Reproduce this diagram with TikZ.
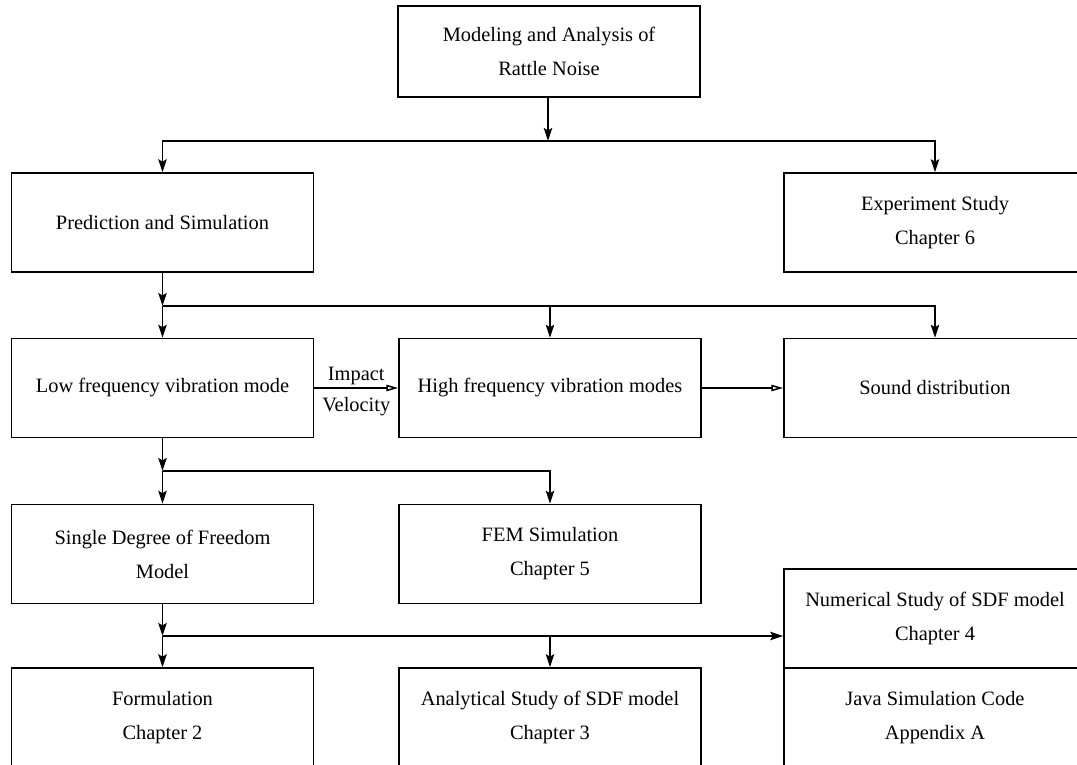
\documentclass[tikz,border=0pt]{standalone}
\usepackage{fontspec}
\setmainfont{Liberation Serif}
\usetikzlibrary{arrows.meta}
\tikzset{
  blockbox/.style={draw, line width=0.75pt, rectangle, minimum width=151pt, minimum height=49.5pt, inner sep=0pt, align=center, font=\fontsize{10.2}{17}\selectfont},
  darrow/.style={-{Stealth[length=6.5pt,width=4.2pt,inset=1.2pt]}, line width=0.75pt},
  oarrow/.style={-{Triangle[open,length=6pt,width=3.2pt]}, line width=0.75pt},
  lbl/.style={font=\fontsize{10.2}{12}\selectfont, inner sep=1.5pt}
}

\begin{document}
\begin{tikzpicture}[x=0.5pt, y=-0.5pt]
    \clip (0,0) rectangle (1077,765);
    \useasboundingbox (0,0) rectangle (1077,765);
    % boxes
    \node[blockbox, minimum height=45.5pt] (rattle) at (549,51.5) {Modeling and Analysis of\\Rattle Noise};
    \node[blockbox] (pred) at (162.5,222.5) {Prediction and Simulation};
    \node[blockbox] (exper) at (935,222.5) {Experiment Study\\Chapter 6};
    \node[blockbox] (lowf) at (162.5,388) {Low frequency vibration mode};
    \node[blockbox] (highf) at (550,388) {High frequency vibration modes};
    \node[blockbox] (sound) at (935,388) {Sound distribution};
    \node[blockbox] (sdf) at (162.5,554) {Single Degree of Freedom\\Model};
    \node[blockbox] (fem) at (550,554) {FEM Simulation\\Chapter 5};
    \node[blockbox] (numer) at (935,618.5) {Numerical Study of SDF model\\Chapter 4};
    \node[blockbox] (java) at (935,717.5) {Java Simulation Code\\Appendix A};
    \node[blockbox] (formul) at (162.5,717.5) {Formulation\\Chapter 2};
    \node[blockbox] (analyt) at (550,717.5) {Analytical Study of SDF model\\Chapter 3};
    % junctions
    \coordinate (j0) at (548,141);
    \coordinate (j1) at (162.5,306);
    \coordinate (j2) at (162.5,471);
    \coordinate (j3) at (162.5,636);
    % connectors
    \draw[darrow] (rattle.south -| j0) -- (j0);
    \draw[darrow] (j0) -| (pred.north);
    \draw[darrow] (j0) -| (exper.north);
    \draw[darrow] (pred.south) -- (j1);
    \draw[darrow] (j1) -- (lowf.north);
    \draw[darrow] (j1) -| (highf.north);
    \draw[darrow] (j1) -| (sound.north);
    \draw[oarrow] (lowf.east) -- coordinate[pos=0.5] (imp) (highf.west);
    \node[lbl, anchor=south] (impact) at (imp) {Impact};
    \node[lbl, anchor=north, yshift=-3pt] (veloc) at (imp) {Velocity};
    \draw[oarrow] (highf.east) -- (sound.west);
    \draw[darrow] (lowf.south) -- (j2);
    \draw[darrow] (j2) -- (sdf.north);
    \draw[darrow] (j2) -| (fem.north);
    \draw[darrow] (sdf.south) -- (j3);
    \draw[darrow] (j3) -- (formul.north);
    \draw[darrow] (j3) -| (analyt.north);
    \draw[darrow] (j3) -- (j3 -| numer.west);
  \end{tikzpicture}
\end{document}
